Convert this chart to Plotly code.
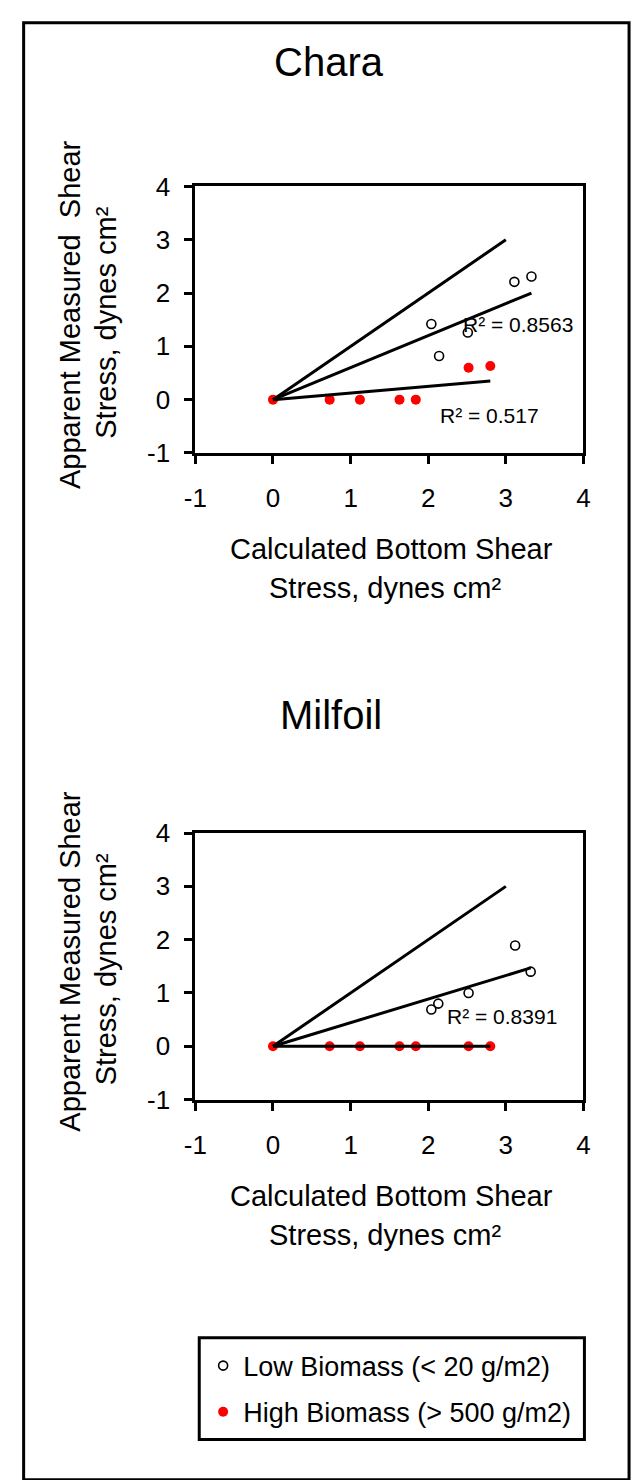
import plotly.graph_objects as go

W, H = 638, 1480
FONT = "Liberation Sans"

# ---------------- data ----------------
tick_vals = [-1, 0, 1, 2, 3, 4]
tick_text = ["-1", "0", "1", "2", "3", "4"]

# Chara
chara_low_x = [2.04, 2.14, 2.51, 3.11, 3.33]
chara_low_y = [1.42, 0.82, 1.26, 2.21, 2.31]
chara_high_x = [0.0, 0.73, 1.12, 1.63, 1.84, 2.52, 2.80]
chara_high_y = [0.0, 0.0, 0.0, 0.0, 0.0, 0.60, 0.63]
chara_low_trend_x = [0.0, 3.33]
chara_low_trend_y = [0.0, 2.0]
chara_high_trend_x = [0.0, 2.80]
chara_high_trend_y = [0.0, 0.35]
chara_r2_low = "R² = 0.8563"
chara_r2_high = "R² = 0.517"

# Milfoil
milfoil_low_x = [2.04, 2.13, 2.52, 3.12, 3.32]
milfoil_low_y = [0.69, 0.80, 1.00, 1.89, 1.40]
milfoil_high_x = [0.0, 0.73, 1.12, 1.63, 1.84, 2.52, 2.80]
milfoil_high_y = [0.0, 0.0, 0.0, 0.0, 0.0, 0.0, 0.0]
milfoil_low_trend_x = [0.0, 3.32]
milfoil_low_trend_y = [0.0, 1.47]
milfoil_high_trend_x = [0.0, 2.80]
milfoil_high_trend_y = [0.0, 0.0]
milfoil_r2_low = "R² = 0.8391"

# 1:1 reference line
one_x = [0.0, 3.0]
one_y = [0.0, 3.0]

low_name = "Low Biomass (< 20 g/m2)"
high_name = "High Biomass (> 500 g/m2)"

# ---------------- helpers ----------------
def px(x):
    return x / W

def py(y):
    return 1 - y / H

fig = go.Figure()

line_style = dict(color="black", width=3)
low_marker = dict(symbol="circle-open", size=9, color="black", line=dict(width=1.6, color="black"))
high_marker = dict(symbol="circle", size=10, color="#ff0000", line=dict(width=0))

panels = [
    ("x", "y", chara_low_x, chara_low_y, chara_high_x, chara_high_y,
     chara_low_trend_x, chara_low_trend_y, chara_high_trend_x, chara_high_trend_y, True),
    ("x2", "y2", milfoil_low_x, milfoil_low_y, milfoil_high_x, milfoil_high_y,
     milfoil_low_trend_x, milfoil_low_trend_y, milfoil_high_trend_x, milfoil_high_trend_y, False),
]

for xa, ya, lx, ly, hx, hy, ltx, lty, htx, hty, show in panels:
    fig.add_trace(go.Scatter(x=hx, y=hy, mode="markers", marker=high_marker, name=high_name,
                             xaxis=xa, yaxis=ya, showlegend=show, legendgroup="high", legendrank=2))
    fig.add_trace(go.Scatter(x=one_x, y=one_y, mode="lines", line=line_style,
                             xaxis=xa, yaxis=ya, showlegend=False, hoverinfo="skip"))
    fig.add_trace(go.Scatter(x=ltx, y=lty, mode="lines", line=line_style,
                             xaxis=xa, yaxis=ya, showlegend=False, hoverinfo="skip"))
    fig.add_trace(go.Scatter(x=htx, y=hty, mode="lines", line=line_style,
                             xaxis=xa, yaxis=ya, showlegend=False, hoverinfo="skip"))
    fig.add_trace(go.Scatter(x=lx, y=ly, mode="markers", marker=low_marker, name=low_name,
                             xaxis=xa, yaxis=ya, showlegend=show, legendgroup="low", legendrank=1))

axis_common = dict(
    range=[-1, 4], tickmode="array", tickvals=tick_vals, ticktext=tick_text,
    showline=True, linewidth=3, linecolor="black", mirror=True,
    ticks="outside", ticklen=8, tickwidth=3, tickcolor="black",
    showgrid=False, zeroline=False, fixedrange=True,
    tickfont=dict(family=FONT, size=26, color="black"),
)

xdom = [px(189), px(589)]
fig.update_layout(
    width=W, height=H,
    margin=dict(l=0, r=0, t=0, b=0),
    paper_bgcolor="white", plot_bgcolor="white",
    font=dict(family=FONT, color="black"),
    xaxis=dict(domain=xdom, anchor="y", ticklabelstandoff=12, **axis_common),
    yaxis=dict(domain=[py(447), py(175)], anchor="x", ticklabelstandoff=9, **axis_common),
    xaxis2=dict(domain=xdom, anchor="y2", ticklabelstandoff=12, **axis_common),
    yaxis2=dict(domain=[py(1107), py(835)], anchor="x2", ticklabelstandoff=9, **axis_common),
    legend=dict(x=px(197), y=py(1354), xanchor="left", yanchor="top",
                bgcolor="rgba(0,0,0,0)", borderwidth=0,
                font=dict(family=FONT, size=27, color="black"),
                traceorder="grouped", tracegroupgap=8),
    showlegend=True,
)

ann = []
def text(x, y, s, size, angle=0, xanchor="center"):
    ann.append(dict(x=px(x), y=py(y), xref="paper", yref="paper", text=s, showarrow=False,
                    xanchor=xanchor, yanchor="middle", textangle=angle,
                    font=dict(family=FONT, size=size, color="black")))

# titles
text(327, 48, "Chara", 40)
text(329, 714, "Milfoil", 40)
# x titles
for off in (0, 660):
    text(391, 545 + off, "Calculated Bottom Shear", 29)
    text(384, 585 + off, "Stress, dynes cm²", 29)
# y titles
text(60, 306, "Apparent Measured\u00a0 Shear", 29, angle=-90)
text(97, 314, "Stress, dynes cm²", 29, angle=-90)
text(60, 966, "Apparent Measured Shear", 29, angle=-90)
text(97, 974, "Stress, dynes cm²", 29, angle=-90)

fig.update_layout(annotations=ann)

# R² labels (data coordinates)
fig.add_annotation(x=2.42, y=1.41, xref="x", yref="y", text=chara_r2_low, showarrow=False,
                   xanchor="left", yanchor="middle", font=dict(family=FONT, size=21, color="black"))
fig.add_annotation(x=2.12, y=-0.29, xref="x", yref="y", text=chara_r2_high, showarrow=False,
                   xanchor="left", yanchor="middle", font=dict(family=FONT, size=21, color="black"))
fig.add_annotation(x=2.21, y=0.56, xref="x2", yref="y2", text=milfoil_r2_low, showarrow=False,
                   xanchor="left", yanchor="middle", font=dict(family=FONT, size=21, color="black"))

# outer frame and legend box
fig.add_shape(type="rect", xref="paper", yref="paper", x0=px(12), x1=px(636), y0=py(1495), y1=py(8),
              line=dict(color="black", width=3), fillcolor="rgba(0,0,0,0)", layer="above")
fig.add_shape(type="rect", xref="paper", yref="paper", x0=px(193), x1=px(590), y0=py(1454), y1=py(1350),
              line=dict(color="black", width=3), fillcolor="rgba(0,0,0,0)", layer="above")

fig.write_html("out.html")
